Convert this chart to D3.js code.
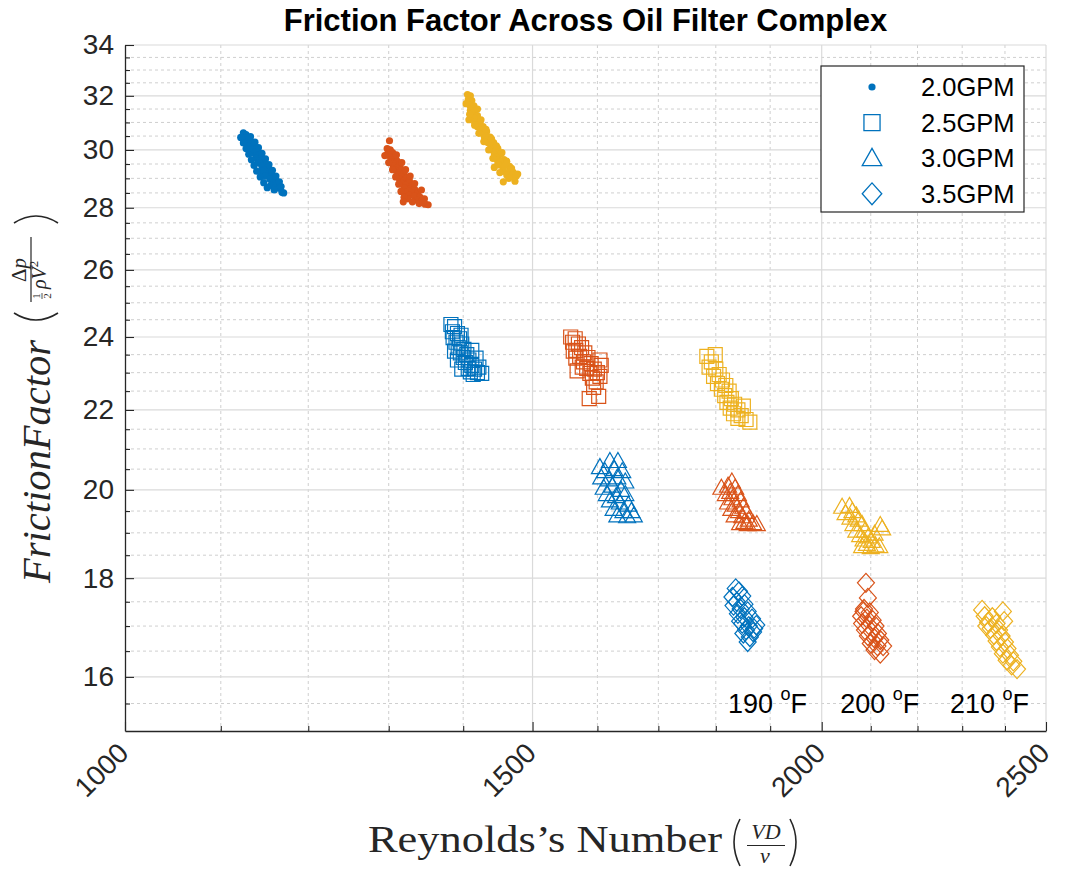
<!DOCTYPE html>
<html>
<head>
<meta charset="utf-8">
<script src="https://cdn.jsdelivr.net/npm/d3@7"></script>
<style>
  body { margin: 0; background: #fff; }
  svg { display: block; }
</style>
</head>
<body>
<svg id="chart" width="1065" height="871"></svg>
<script>
// flow rates (marker) and oil temperatures (colour)
const flows = ['2.0GPM', '2.5GPM', '3.0GPM', '3.5GPM']
const temps = ['190', '200', '210']
const xTicks = [1000, 1500, 2000, 2500]
const yTicks = [16, 18, 20, 22, 24, 26, 28, 30, 32, 34]

// [Reynolds number, friction factor]
const dots190 = [[1125,30.62],[1128,30.55],[1126,30.44],[1131,30.40],[1129,30.28],[1134,30.30],[1131,30.14],[1137,30.16],[1135,30.05],[1133,30.00],[1140,30.02],[1137,29.88],[1143,29.86],[1140,29.80],[1139,29.70],[1146,29.72],[1143,29.62],[1148,29.58],[1142,29.54],[1150,29.50],[1146,29.42],[1153,29.40],[1149,29.30],[1146,29.25],[1155,29.26],[1152,29.14],[1157,29.12],[1150,29.08],[1160,29.05],[1155,28.98],[1162,28.92],[1158,28.85],[1164,28.80],[1156,28.76],[1161,28.68],[1166,28.66],[1160,28.60],[1169,28.52],
  [1122,30.45],[1133,30.48],[1125,30.25],[1138,30.28],[1128,30.05],[1142,30.08],[1131,29.85],[1146,29.88],[1134,29.65],[1150,29.68],[1137,29.45],[1154,29.48],[1140,29.25],[1158,29.28],[1144,29.05],[1162,29.08],[1148,28.85],[1166,28.88],[1152,28.68],[1168,28.72],[1171,28.50]]
const dots200 = [[1301,30.33],[1298,30.05],[1302,30.00],[1299,29.88],[1305,29.90],[1302,29.76],[1308,29.74],[1305,29.66],[1304,29.58],[1311,29.60],[1308,29.50],[1306,29.44],[1314,29.45],[1310,29.35],[1309,29.28],[1317,29.30],[1313,29.20],[1312,29.12],[1320,29.15],[1316,29.05],[1314,28.98],[1323,29.00],[1319,28.90],[1327,28.92],[1317,28.83],[1326,28.84],[1322,28.76],[1330,28.74],[1320,28.68],[1329,28.66],[1334,28.62],[1325,28.58],[1322,28.52],[1331,28.50],[1338,28.50],[1327,28.42],[1334,28.38],[1341,28.36],[1325,28.30],[1337,28.26],[1344,28.24],[1331,28.20],[1340,28.14],[1348,28.12],[1352,28.10],
  [1295,29.80],[1310,29.82],[1300,29.55],[1317,29.55],[1305,29.30],[1322,29.30],[1309,29.05],[1328,29.08],[1313,28.80],[1334,28.82],[1316,28.55],[1343,28.60],[1320,28.35],[1347,28.30],[1345,28.18],[1319,28.20]]
const dots210 = [[1406,32.05],[1410,32.00],[1407,31.85],[1412,31.82],[1409,31.65],[1415,31.62],[1410,31.45],[1417,31.44],[1413,31.35],[1408,31.10],[1412,31.22],[1420,31.25],[1416,31.15],[1416,31.02],[1424,31.05],[1420,30.92],[1420,30.84],[1428,30.85],[1424,30.74],[1425,30.64],[1433,30.66],[1429,30.55],[1430,30.45],[1438,30.46],[1434,30.36],[1435,30.26],[1443,30.26],[1439,30.16],[1440,30.05],[1449,30.06],[1445,29.96],[1444,29.86],[1453,29.86],[1449,29.76],[1448,29.66],[1458,29.66],[1453,29.58],[1462,29.60],[1444,29.38],[1452,29.46],[1462,29.46],[1457,29.38],[1466,29.42],[1457,29.25],[1466,29.26],[1471,29.22],[1462,29.12],[1470,29.10],[1476,29.08],[1457,28.88],[1474,28.90],
  [1404,31.70],[1420,31.50],[1409,31.30],[1425,31.10],[1416,30.90],[1432,30.75],[1422,30.60],[1440,30.40],[1429,30.30],[1447,30.15],[1436,30.00],[1455,29.90],[1442,29.70],[1462,29.52],[1449,29.50],[1469,29.35],[1452,29.20],[1478,29.15],[1465,29.00]]

const sq190 = [[1383,24.36],[1388,24.30],[1385,24.15],[1392,24.10],[1386,23.98],[1397,24.05],[1395,23.95],[1390,23.85],[1398,23.80],[1393,23.70],[1401,23.65],[1396,23.55],[1405,23.50],[1400,23.42],[1408,23.35],[1403,23.28],[1412,23.20],[1407,23.12],[1416,23.10],[1410,23.02],[1420,23.00],[1426,22.98],[1414,22.95],[1388,23.60],[1412,23.62],[1392,23.35],[1418,23.40],[1398,23.10],[1422,23.15]]
const sq200 = [[1558,24.00],[1565,23.95],[1561,23.85],[1570,23.80],[1575,23.70],[1566,23.62],[1580,23.55],[1572,23.45],[1585,23.42],[1578,23.30],[1590,23.25],[1583,23.12],[1595,23.10],[1568,23.05],[1588,22.98],[1600,23.00],[1604,22.90],[1592,22.85],[1598,22.75],[1594,22.60],[1602,22.36],[1587,22.30],[1566,23.40],[1604,23.35],[1606,23.20],[1562,23.60],[1576,23.15]]
const sq210 = [[1784,23.45],[1799,23.50],[1792,23.30],[1788,23.15],[1800,23.10],[1806,22.95],[1796,22.90],[1812,22.80],[1803,22.70],[1818,22.65],[1810,22.55],[1824,22.50],[1816,22.38],[1828,22.30],[1820,22.20],[1834,22.15],[1826,22.05],[1840,22.00],[1850,22.10],[1832,21.90],[1846,21.85],[1840,21.78],[1855,21.75],[1862,21.68]]

const tri190 = [[1604,20.55],[1620,20.70],[1633,20.70],[1612,20.45],[1627,20.50],[1640,20.45],[1606,20.30],[1618,20.25],[1632,20.30],[1645,20.20],[1610,20.05],[1624,20.10],[1638,20.00],[1615,19.90],[1630,19.85],[1645,19.90],[1620,19.75],[1636,19.70],[1650,19.65],[1626,19.55],[1642,19.50],[1655,19.50],[1632,19.40],[1648,19.38],[1659,19.40]]
const tri200 = [[1829,20.20],[1822,20.10],[1810,20.05],[1835,20.05],[1826,19.95],[1818,19.90],[1840,19.90],[1830,19.80],[1845,19.75],[1822,19.70],[1836,19.65],[1850,19.60],[1828,19.55],[1842,19.50],[1855,19.48],[1834,19.40],[1848,19.38],[1860,19.30],[1844,19.22],[1852,19.25],[1868,19.22],[1858,19.20],[1875,19.20]]
const tri210 = [[2041,19.60],[2056,19.62],[2062,19.50],[2048,19.45],[2070,19.40],[2058,19.35],[2075,19.30],[2064,19.20],[2082,19.20],[2120,19.18],[2124,19.10],[2070,19.05],[2088,19.05],[2078,18.95],[2095,18.92],[2085,18.85],[2102,18.82],[2092,18.75],[2110,18.72],[2082,18.70],[2100,18.68],[2118,18.70],[2108,18.98]]

const dia190 = [[1836,17.78],[1842,17.72],[1830,17.60],[1848,17.62],[1838,17.50],[1852,17.45],[1832,17.42],[1845,17.35],[1858,17.30],[1840,17.25],[1852,17.18],[1866,17.15],[1844,17.10],[1848,17.05],[1860,17.00],[1874,17.02],[1870,16.95],[1855,16.92],[1868,16.88],[1850,16.85],[1862,16.78],[1858,16.68]]
const dia200 = [[2090,17.90],[2094,17.58],[2086,17.35],[2085,17.30],[2098,17.28],[2080,17.20],[2092,17.15],[2104,17.12],[2082,17.05],[2096,17.02],[2110,17.00],[2088,16.92],[2102,16.88],[2115,16.85],[2094,16.80],[2108,16.75],[2120,16.72],[2100,16.65],[2114,16.60],[2126,16.60],[2108,16.52],[2120,16.45]]
const dia210 = [[2346,17.33],[2395,17.30],[2352,17.20],[2370,17.18],[2398,17.10],[2360,17.08],[2380,17.05],[2356,17.00],[2366,16.95],[2386,16.92],[2374,16.82],[2392,16.80],[2380,16.70],[2400,16.68],[2388,16.58],[2406,16.55],[2395,16.45],[2412,16.42],[2404,16.32],[2420,16.30],[2416,16.22],[2429,16.15]]

// temperature label anchors, in data units
const tempLabelRe = [1822, 2037, 2272]
const tempLabelF = 15.5

const colors = ['#0072BD', '#D95319', '#EDB120']
const series = [
  [dots190, dots200, dots210],
  [sq190, sq200, sq210],
  [tri190, tri200, tri210],
  [dia190, dia200, dia210]
]

const svg = d3.select('#chart')
const mLeft = 125, mRight = 1046, mTop = 45, mBottom = 731
const axisColor = '#262626'
const sans = "'Liberation Sans', Arial, Helvetica, sans-serif"
const serif = "'Liberation Serif', 'Times New Roman', serif"

const xScale = d3.scaleLog().domain([1000, 2500]).range([mLeft, mRight])
const yScale = d3.scaleLog().domain([15, 34]).range([mBottom, mTop])

const xMinor = d3.range(1100, 2500, 100).filter(v => v !== 1500 && v !== 2000)
const yMinor = d3.range(15.5, 34, 0.5).filter(v => !(v % 2 === 0 && v >= 16))

// grid
const grid = svg.append('g')
grid.selectAll('.gx-minor').data(xMinor).join('line')
  .attr('x1', d => xScale(d)).attr('x2', d => xScale(d))
  .attr('y1', mTop).attr('y2', mBottom)
  .attr('stroke', '#cfcfcf').attr('stroke-dasharray', '3,3')
grid.selectAll('.gy-minor').data(yMinor).join('line')
  .attr('x1', mLeft).attr('x2', mRight)
  .attr('y1', d => yScale(d)).attr('y2', d => yScale(d))
  .attr('stroke', '#cfcfcf').attr('stroke-dasharray', '3,3')
grid.selectAll('.gx').data(xTicks.slice(1)).join('line')
  .attr('x1', d => xScale(d)).attr('x2', d => xScale(d))
  .attr('y1', mTop).attr('y2', mBottom)
  .attr('stroke', '#dadada').attr('stroke-width', 1.2)
grid.selectAll('.gy').data(yTicks).join('line')
  .attr('x1', mLeft).attr('x2', mRight)
  .attr('y1', d => yScale(d)).attr('y2', d => yScale(d))
  .attr('stroke', '#dadada').attr('stroke-width', 1.2)

// marker shapes
const markerPath = (k, s) => {
  if (k === 1) return `M${-7*s},${-7*s}h${14*s}v${14*s}h${-14*s}Z`
  if (k === 2) return `M0,${-8.5*s}L${8.5*s},${6.5*s}L${-8.5*s},${6.5*s}Z`
  return `M0,${-9.5*s}L${8.5*s},0L0,${9.5*s}L${-8.5*s},0Z`
}

const plot = svg.append('g')
series.forEach((byTemp, k) => {
  byTemp.forEach((pts, t) => {
    const g = plot.append('g')
    if (k === 0) {
      g.selectAll('circle').data(pts).join('circle')
        .attr('cx', d => xScale(d[0])).attr('cy', d => yScale(d[1]))
        .attr('r', 3.6).attr('fill', colors[t])
    } else {
      g.selectAll('path').data(pts).join('path')
        .attr('transform', d => `translate(${xScale(d[0])},${yScale(d[1])})`)
        .attr('d', markerPath(k, 1))
        .attr('fill', 'none').attr('stroke', colors[t]).attr('stroke-width', 1.2)
    }
  })
})

// axes
const yAxis = svg.append('g').attr('transform', `translate(${mLeft},0)`)
  .call(d3.axisLeft(yScale).tickValues(yTicks).tickFormat(d3.format('d'))
    .tickSizeInner(-9).tickSizeOuter(0).tickPadding(11))
svg.append('g').attr('transform', `translate(${mLeft},0)`)
  .call(d3.axisLeft(yScale).tickValues(yMinor).tickFormat('').tickSizeInner(-5).tickSizeOuter(0))
  .call(g => g.select('.domain').remove())
const xAxis = svg.append('g').attr('transform', `translate(0,${mBottom})`)
  .call(d3.axisBottom(xScale).tickValues(xTicks).tickFormat(d3.format('d'))
    .tickSizeInner(-9).tickSizeOuter(0))
svg.append('g').attr('transform', `translate(0,${mBottom})`)
  .call(d3.axisBottom(xScale).tickValues(xMinor).tickFormat('').tickSizeInner(-5).tickSizeOuter(0))
  .call(g => g.select('.domain').remove())

svg.selectAll('.domain').attr('stroke', axisColor).attr('stroke-width', 1.3)
svg.selectAll('.tick line').attr('stroke', axisColor).attr('stroke-width', 1.1)
yAxis.selectAll('text').attr('font-family', sans).attr('font-size', 28).attr('fill', axisColor)
xAxis.selectAll('text')
  .attr('font-family', sans).attr('font-size', 28).attr('fill', axisColor)
  .attr('x', 0).attr('y', 0).attr('dy', null)
  .attr('text-anchor', 'end').attr('dominant-baseline', 'central')
  .attr('transform', 'translate(-2,17) rotate(-45)')

// title
svg.append('text')
  .attr('x', (mLeft + mRight) / 2).attr('y', 31)
  .attr('text-anchor', 'middle')
  .attr('font-family', sans).attr('font-weight', 'bold').attr('font-size', 31)
  .attr('fill', '#000')
  .text('Friction Factor Across Oil Filter Complex')

// x label
const xl = svg.append('g').attr('font-family', serif).attr('fill', axisColor)
xl.append('text').attr('x', 368).attr('y', 852).attr('font-size', 38)
  .attr('textLength', 354).attr('lengthAdjust', 'spacingAndGlyphs')
  .text('Reynolds’s Number')
xl.append('path').attr('d', 'M740,819 Q728,842 740,866')
  .attr('fill', 'none').attr('stroke', axisColor).attr('stroke-width', 1.6)
xl.append('text').attr('x', 766).attr('y', 839).attr('font-size', 22)
  .attr('font-style', 'italic').attr('text-anchor', 'middle').text('VD')
xl.append('line').attr('x1', 747).attr('x2', 785).attr('y1', 845.5).attr('y2', 845.5)
  .attr('stroke', axisColor).attr('stroke-width', 1.2)
xl.append('text').attr('x', 765).attr('y', 863).attr('font-size', 22)
  .attr('font-style', 'italic').attr('text-anchor', 'middle').text('ν')
xl.append('path').attr('d', 'M790,819 Q802,842 790,866')
  .attr('fill', 'none').attr('stroke', axisColor).attr('stroke-width', 1.6)

// y label, drawn along the rotated baseline
const yl = svg.append('g').attr('transform', 'translate(50,393) rotate(-90)')
  .attr('font-family', serif).attr('fill', axisColor)
yl.append('text').attr('x', -190).attr('y', 0).attr('font-size', 41)
  .attr('font-style', 'italic')
  .attr('textLength', 243).attr('lengthAdjust', 'spacingAndGlyphs')
  .text('FrictionFactor')
yl.append('path').attr('d', 'M80,-36 Q66,-14 80,8')
  .attr('fill', 'none').attr('stroke', axisColor).attr('stroke-width', 1.6)
const num = yl.append('text').attr('x', 123).attr('y', -24).attr('font-size', 21)
  .attr('text-anchor', 'middle')
num.append('tspan').text('Δ')
num.append('tspan').attr('font-style', 'italic').text('p')
yl.append('line').attr('x1', 91).attr('x2', 156).attr('y1', -19).attr('y2', -19)
  .attr('stroke', axisColor).attr('stroke-width', 1.2)
yl.append('text').attr('x', 97).attr('y', -10).attr('font-size', 11).attr('text-anchor', 'middle').text('1')
yl.append('line').attr('x1', 94).attr('x2', 100).attr('y1', -8).attr('y2', -8)
  .attr('stroke', axisColor).attr('stroke-width', 0.8)
yl.append('text').attr('x', 97).attr('y', 1).attr('font-size', 11).attr('text-anchor', 'middle').text('2')
const den = yl.append('text').attr('x', 104).attr('y', -4).attr('font-size', 20)
  .attr('font-style', 'italic')
den.append('tspan').text('ρV')
den.append('tspan').attr('font-size', 13).attr('font-style', 'normal').attr('dy', -8).text('2')
yl.append('path').attr('d', 'M170,-36 Q184,-14 170,8')
  .attr('fill', 'none').attr('stroke', axisColor).attr('stroke-width', 1.6)

// temperature labels
temps.forEach((t, i) => {
  const txt = svg.append('text')
    .attr('x', xScale(tempLabelRe[i])).attr('y', yScale(tempLabelF))
    .attr('dominant-baseline', 'central')
    .attr('font-family', sans).attr('font-size', 27).attr('fill', '#000')
  txt.append('tspan').text(t + ' ')
  txt.append('tspan').attr('font-size', 18).attr('dy', -10).text('o')
  txt.append('tspan').attr('dy', 10).text('F')
})

// legend
const legend = svg.append('g')
legend.append('rect').attr('x', 821).attr('y', 66).attr('width', 203).attr('height', 146)
  .attr('fill', '#fff').attr('stroke', axisColor).attr('stroke-width', 1.2)
const rows = legend.selectAll('.row').data(flows).join('g')
  .attr('transform', (d, i) => `translate(872,${87 + i * 35.6})`)
rows.each(function (d, i) {
  const g = d3.select(this)
  if (i === 0) {
    g.append('circle').attr('r', 3.6).attr('fill', colors[0])
  } else {
    g.append('path').attr('d', markerPath(i, 1.15))
      .attr('fill', 'none').attr('stroke', colors[0]).attr('stroke-width', 1.3)
  }
})
rows.append('text').attr('x', 49).attr('y', 0).attr('dominant-baseline', 'central')
  .attr('font-family', sans).attr('font-size', 25.5).attr('fill', '#000')
  .text(d => d)
</script>
</body>
</html>
